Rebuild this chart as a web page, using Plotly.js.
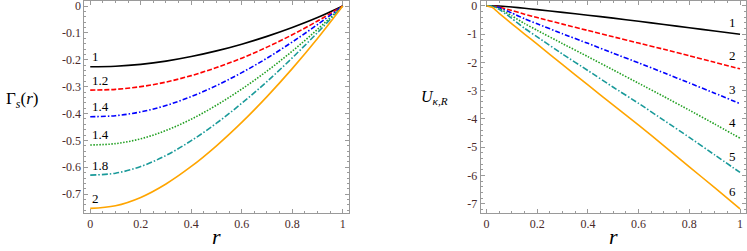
<!DOCTYPE html>
<html>
<head>
<meta charset="utf-8">
<script src="https://cdn.plot.ly/plotly-3.0.1.min.js"></script>
<style>html,body{margin:0;padding:0;background:#fff;}#chart{width:747px;height:251px;}</style>
</head>
<body>
<div id="chart"></div>
<script>
// ---- Left panel: Gamma_s(r) ----
const rLeft = [0, 0.1, 0.2, 0.3, 0.4, 0.5, 0.6, 0.7, 0.8, 0.9, 1.0];
const gamma1_0 = [-0.226, -0.224, -0.217, -0.205, -0.188, -0.167, -0.142, -0.113, -0.080, -0.043, 0];
const gamma1_2 = [-0.313, -0.310, -0.300, -0.283, -0.259, -0.229, -0.194, -0.153, -0.107, -0.056, 0];
const gamma1_4a = [-0.412, -0.408, -0.394, -0.370, -0.337, -0.296, -0.248, -0.194, -0.134, -0.069, 0];
const gamma1_4b = [-0.517, -0.512, -0.494, -0.463, -0.421, -0.369, -0.309, -0.242, -0.168, -0.087, 0];
const gamma1_8 = [-0.629, -0.622, -0.597, -0.556, -0.501, -0.436, -0.362, -0.281, -0.193, -0.099, 0];
const gamma2_0 = [-0.753, -0.743, -0.712, -0.662, -0.597, -0.520, -0.433, -0.337, -0.233, -0.121, 0];
const leftLabels = ['1', '1.2', '1.4', '1.4', '1.8', '2'];
const leftXTickVals = [0, 0.2, 0.4, 0.6, 0.8, 1];
const leftXTickText = ['0', '0.2', '0.4', '0.6', '0.8', '1'];
const leftYTickVals = [0, -0.1, -0.2, -0.3, -0.4, -0.5, -0.6, -0.7];
const leftYTickText = ['0', '-0.1', '-0.2', '-0.3', '-0.4', '-0.5', '-0.6', '-0.7'];

// ---- Right panel: U_{kappa,R}(r) ----
const rRight = [0, 0.025, 0.05, 0.1, 0.15, 0.2, 0.3, 0.4, 0.5, 0.6, 0.7, 0.8, 0.9, 1.0];
const u1 = [0, -0.002, -0.01, -0.045, -0.092, -0.14, -0.235, -0.335, -0.44, -0.55, -0.665, -0.78, -0.895, -1.01];
const u2 = [0, -0.01, -0.05, -0.17, -0.30, -0.42, -0.65, -0.875, -1.10, -1.32, -1.54, -1.77, -2.00, -2.23];
const u3 = [0, -0.015, -0.07, -0.26, -0.46, -0.64, -0.99, -1.33, -1.68, -2.02, -2.37, -2.73, -3.09, -3.46];
const u4 = [0, -0.02, -0.10, -0.36, -0.63, -0.87, -1.34, -1.80, -2.27, -2.74, -3.21, -3.69, -4.18, -4.68];
const u5 = [0, -0.025, -0.13, -0.45, -0.80, -1.10, -1.71, -2.29, -2.88, -3.45, -4.05, -4.65, -5.27, -5.89];
const u6 = [0, -0.07, -0.27, -0.64, -1.00, -1.36, -2.08, -2.80, -3.51, -4.22, -4.95, -5.69, -6.43, -7.18];
const rightLabels = ['1', '2', '3', '4', '5', '6'];
const rightXTickVals = [0, 0.2, 0.4, 0.6, 0.8, 1];
const rightXTickText = ['0', '0.2', '0.4', '0.6', '0.8', '1'];
const rightYTickVals = [0, -1, -2, -3, -4, -5, -6, -7];
const rightYTickText = ['0', '-1', '-2', '-3', '-4', '-5', '-6', '-7'];

const colors = ['#000000', '#ff0000', '#0000ff', '#22a022', '#1a9a9a', '#ffa500'];
const dashes = ['solid', '5px,2px', '5px,2px,1.5px,2px', '1.5px,1.5px', '6px,2px,1.5px,2px', 'solid'];

const leftSeries = [gamma1_0, gamma1_2, gamma1_4a, gamma1_4b, gamma1_8, gamma2_0];
const rightSeries = [u1, u2, u3, u4, u5, u6];

const traces = [];
leftSeries.forEach((ys, i) => traces.push({
  x: rLeft, y: ys, xaxis: 'x', yaxis: 'y', mode: 'lines', showlegend: false, hoverinfo: 'skip',
  line: {color: colors[i], width: 1.6, dash: dashes[i], shape: 'spline', smoothing: 1}
}));
rightSeries.forEach((ys, i) => traces.push({
  x: rRight, y: ys, xaxis: 'x2', yaxis: 'y2', mode: 'lines', showlegend: false, hoverinfo: 'skip',
  line: {color: colors[i], width: 1.6, dash: dashes[i], shape: 'spline', smoothing: 0.5}
}));

function interp(xs, ys, x) {
  for (let k = 0; k < xs.length - 1; k++) {
    if (x >= xs[k] && x <= xs[k + 1]) {
      const t = (x - xs[k]) / (xs[k + 1] - xs[k]);
      return ys[k] + t * (ys[k + 1] - ys[k]);
    }
  }
  return ys[ys.length - 1];
}

const serif = 'Liberation Serif, Times New Roman, serif';
const tickFont = {family: serif, size: 12, color: '#4a2a2a'};
const frameColor = '#9a9a9a';

function axisBase(extra) {
  return Object.assign({
    showline: true, linecolor: frameColor, linewidth: 1, mirror: 'allticks',
    ticks: 'inside', ticklen: 4, tickwidth: 1, tickcolor: frameColor,
    showgrid: false, zeroline: false, tickfont: tickFont, tickmode: 'array',
    ticklabeloverflow: 'allow', fixedrange: true
  }, extra);
}

const annotations = [];
leftSeries.forEach((ys, i) => annotations.push({
  xref: 'x', yref: 'y', x: rLeft[0], y: ys[0], text: leftLabels[i], showarrow: false,
  xanchor: 'left', yanchor: 'middle', xshift: 0, yshift: 10,
  font: {family: serif, size: 13, color: '#000'}
}));
const rightLabelR = 0.97;
rightSeries.forEach((ys, i) => annotations.push({
  xref: 'x2', yref: 'y2', x: rightLabelR, y: interp(rRight, ys, rightLabelR), text: rightLabels[i], showarrow: false,
  xanchor: 'center', yanchor: 'middle', yshift: 11,
  font: {family: serif, size: 13, color: '#000'}
}));
// axis titles
annotations.push({xref: 'x domain', yref: 'paper', x: 0.5, y: 0.056, text: '<i>r</i>', showarrow: false,
  xanchor: 'center', yanchor: 'middle', font: {family: serif, size: 22, color: '#000'}});
annotations.push({xref: 'x2 domain', yref: 'paper', x: 0.5, y: 0.056, text: '<i>r</i>', showarrow: false,
  xanchor: 'center', yanchor: 'middle', font: {family: serif, size: 22, color: '#000'}});
annotations.push({xref: 'paper', yref: 'paper', x: 0.0295, y: 0.60, text: 'Γ<sub><i>s</i></sub>(<i>r</i>)', showarrow: false,
  xanchor: 'center', yanchor: 'middle', font: {family: serif, size: 17, color: '#000'}});
annotations.push({xref: 'paper', yref: 'paper', x: 0.581, y: 0.61, text: '<i>U</i><sub><i>κ</i>,<i>R</i></sub>', showarrow: false,
  xanchor: 'center', yanchor: 'middle', font: {family: serif, size: 16, color: '#000'}});

const layout = {
  width: 747, height: 251,
  margin: {l: 0, r: 0, t: 0, b: 0, pad: 0},
  paper_bgcolor: '#fff', plot_bgcolor: '#fff',
  showlegend: false,
  xaxis: axisBase({domain: [0.1129, 0.4676], range: [-0.0234, 1.026], anchor: 'y',
    tickvals: leftXTickVals, ticktext: leftXTickText,
    minor: {ticks: 'inside', ticklen: 2, dtick: 0.05, tick0: 0, tickcolor: frameColor, showgrid: false}}),
  yaxis: axisBase({domain: [0.152, 0.996], range: [-0.7695, 0.0186], anchor: 'x',
    tickvals: leftYTickVals, ticktext: leftYTickText,
    minor: {ticks: 'inside', ticklen: 2, dtick: 0.02, tick0: 0, tickcolor: frameColor, showgrid: false}}),
  xaxis2: axisBase({domain: [0.6435, 0.9987], range: [-0.0229, 1.0237], anchor: 'y2',
    tickvals: rightXTickVals, ticktext: rightXTickText,
    minor: {ticks: 'inside', ticklen: 2, dtick: 0.05, tick0: 0, tickcolor: frameColor, showgrid: false}}),
  yaxis2: axisBase({domain: [0.152, 0.996], range: [-7.317, 0.166], anchor: 'x2',
    tickvals: rightYTickVals, ticktext: rightYTickText,
    minor: {ticks: 'inside', ticklen: 2, dtick: 0.2, tick0: 0, tickcolor: frameColor, showgrid: false}}),
  annotations: annotations
};

Plotly.newPlot('chart', traces, layout, {staticPlot: true, displayModeBar: false});
</script>
</body>
</html>
